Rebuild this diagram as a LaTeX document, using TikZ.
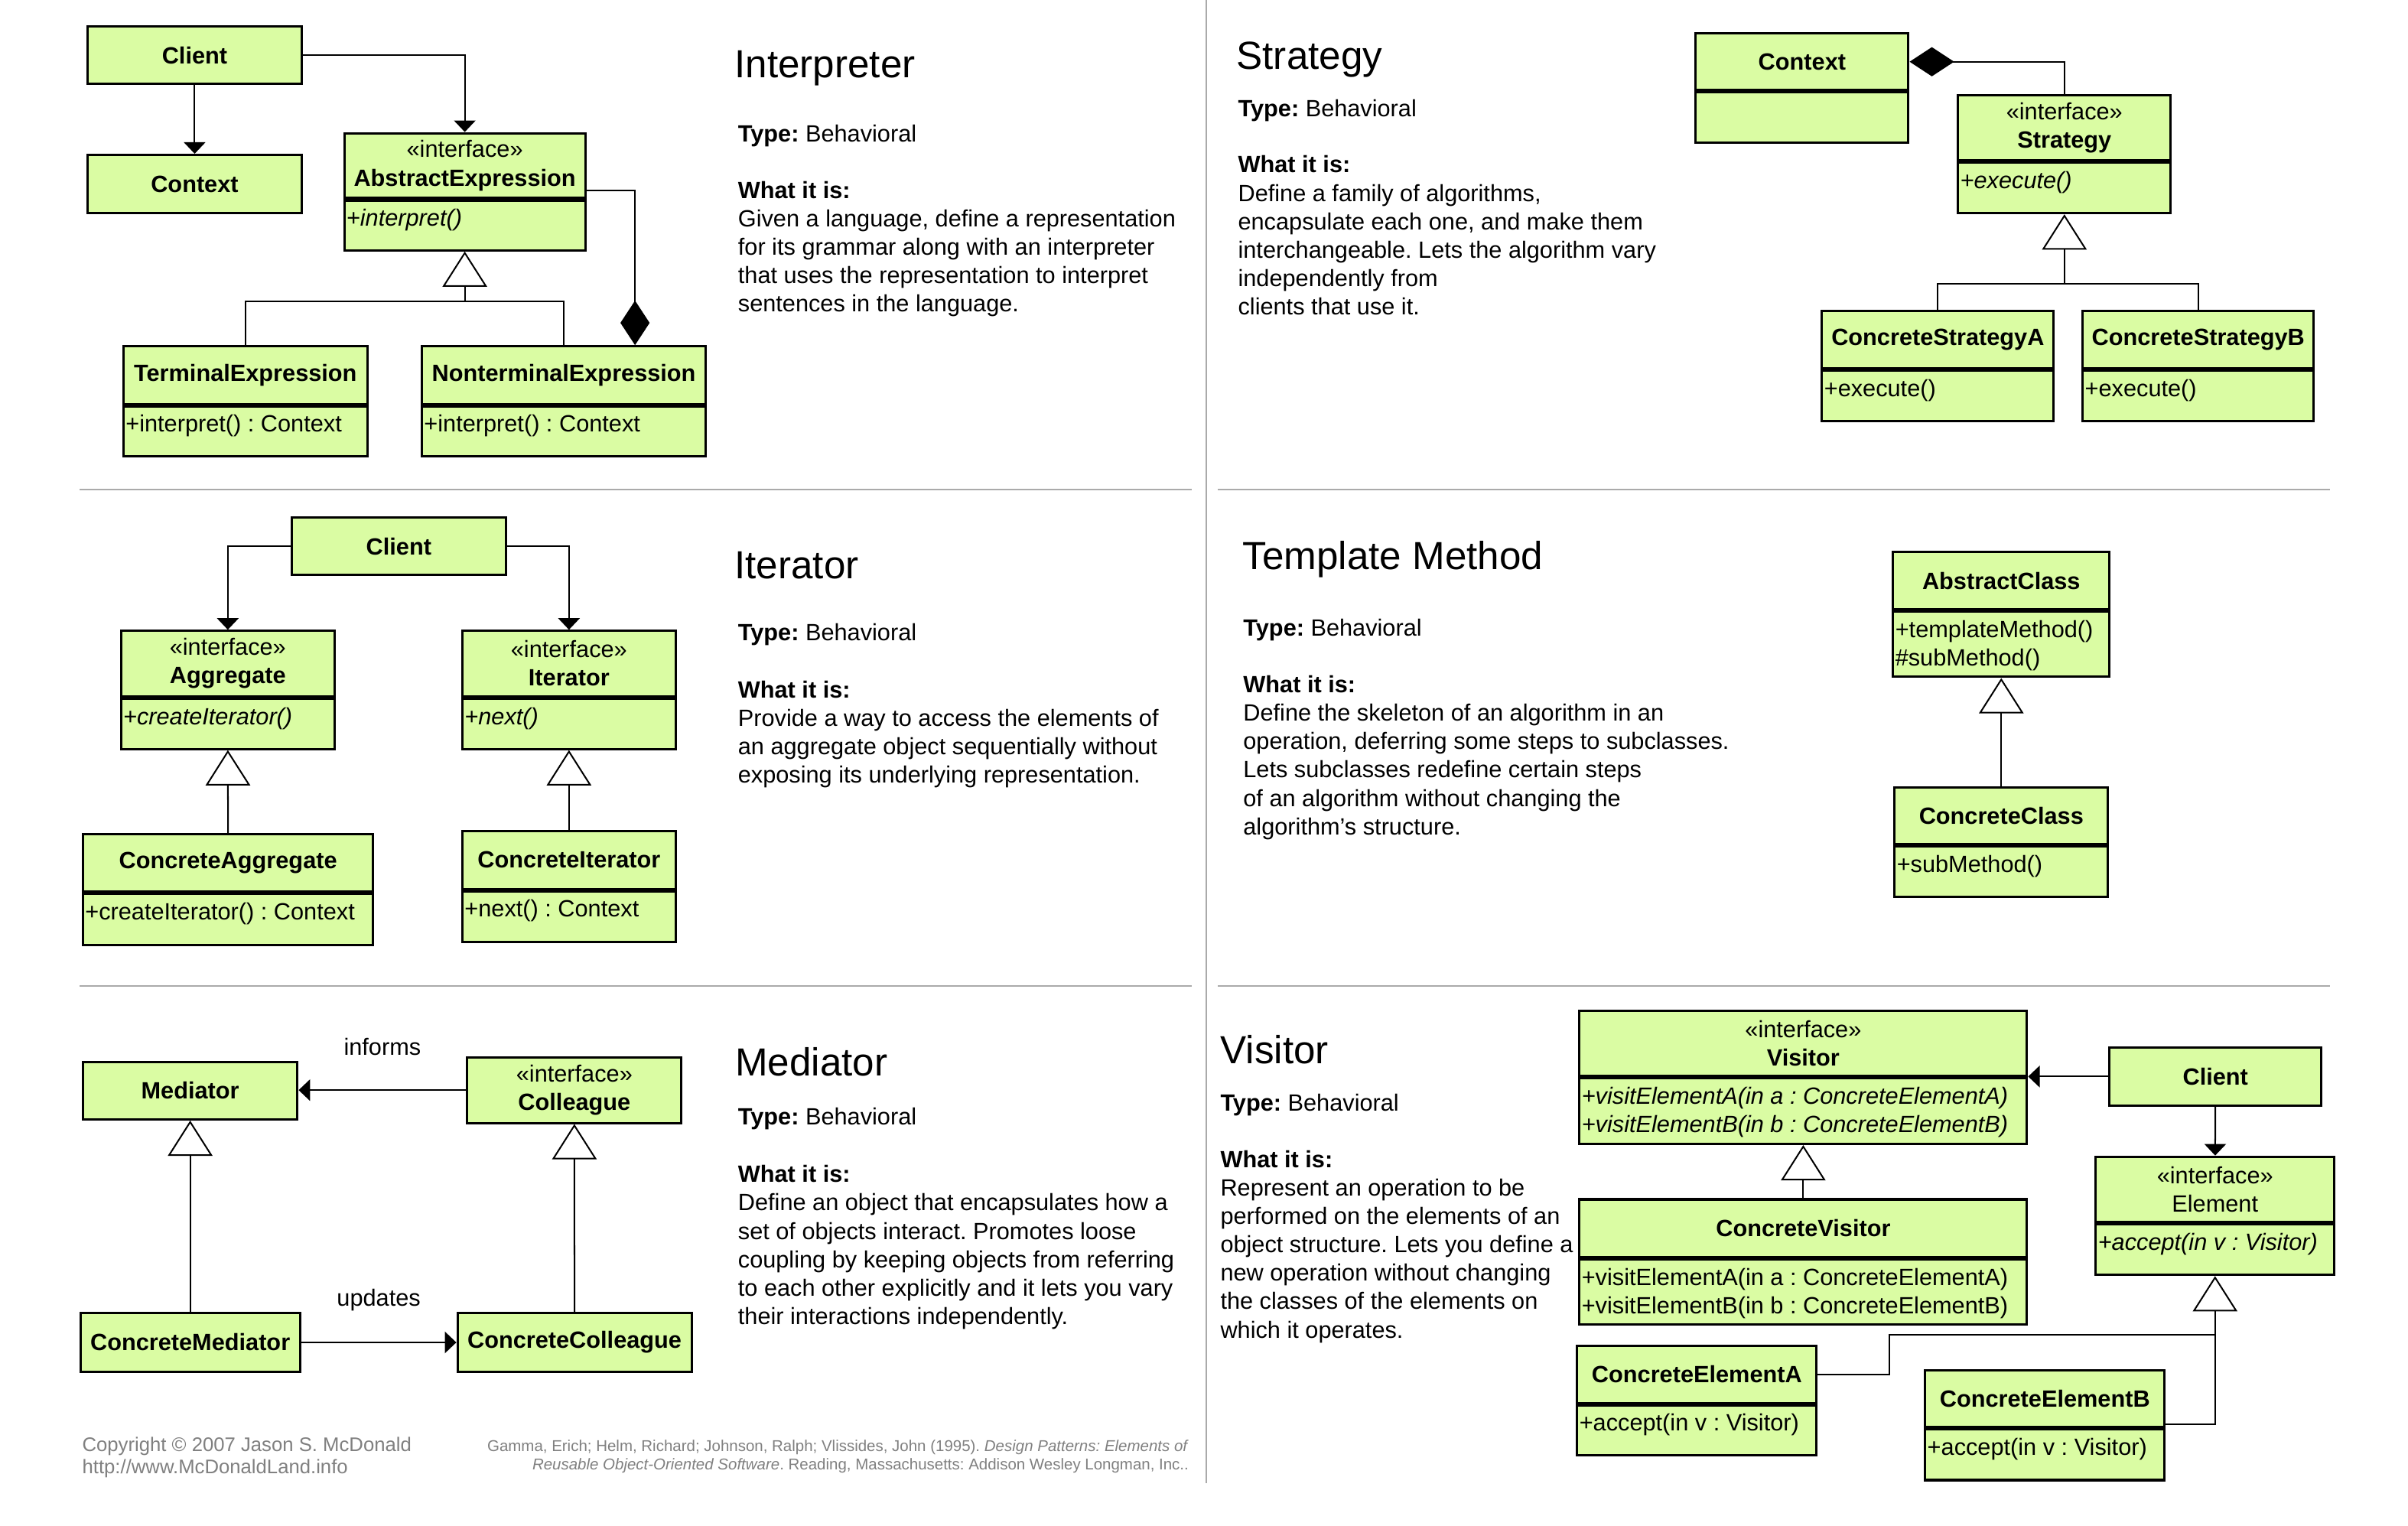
\documentclass[tikz,border=0pt]{standalone}
\usepackage{fontspec}
\setmainfont{Liberation Sans}
\usetikzlibrary{arrows.meta}
\frenchspacing
\definecolor{umlgreen}{RGB}{218,252,163}
\definecolor{rulegray}{RGB}{170,170,170}
\definecolor{footgray}{RGB}{128,128,128}
\newcommand{\umlfont}{\fontsize{15.3}{18.5}\selectfont}
\newcommand{\titlefont}{\fontsize{25.5}{30}\selectfont}
\newcommand{\footfont}{\fontsize{12.8}{14.8}\selectfont}
\newcommand{\citefont}{\fontsize{10.2}{12}\selectfont}

\begin{document}
\begin{tikzpicture}[x=1pt,y=-1pt,
    head/.style={draw,fill=umlgreen,line width=1.5pt,inner sep=0pt,align=center,font=\umlfont},
    body/.style={draw,fill=umlgreen,line width=1.5pt,inner sep=0pt,anchor=north},
    ops/.style={anchor=north west,inner sep=0pt,align=left,font=\umlfont},
    link/.style={line width=1pt},
    assoc/.style={line width=1pt,-{Triangle[width=14pt,length=7.5pt]}},
    gen/.style={line width=1pt,-{Triangle[width=29pt,length=23pt,fill=white]}},
    comp/.style={line width=1pt,-{Diamond[width=19pt,length=29pt]}},
    ptitle/.style={anchor=base west,inner sep=0pt,font=\titlefont},
    kind/.style={anchor=base west,inner sep=0pt,font=\umlfont},
    desc/.style={anchor=north west,inner sep=0pt,align=left,font=\umlfont},
    lbl/.style={inner sep=0pt,font=\umlfont},
    rule/.style={rulegray,line width=1.3pt}]
            \useasboundingbox (0,0) rectangle (1568,993.2);
            \fill[white] (0,0) rectangle (1568,993.2);

            \draw[rule] (785.5,0) -- (785.5,966);
            \draw[rule] (52,318.8) -- (776,318.8);
            \draw[rule] (793,318.8) -- (1517,318.8);
            \draw[rule] (52,642) -- (776,642);
            \draw[rule] (793,642) -- (1517,642);

            \node[head,minimum width=139pt,minimum height=37.5pt] (ic) at (126.75,36) {\textbf{Client}};
            \node[head,minimum width=139pt,minimum height=38pt] (ictx) at (126.75,119.85) {\textbf{Context}};
            \node[head,minimum width=157pt,minimum height=42.3pt] (iae) at (302.65,107.85) {«interface»\\\textbf{AbstractExpression}};
            \node[body,minimum width=157pt,minimum height=32.5pt] (iae-b) at (iae.south) {};
            \node[ops] (iae-o) at ([xshift=2pt,yshift=-4.5pt]iae-b.north west) {\strut\textit{+interpret()}};
            \node[head,minimum width=158.8pt,minimum height=37.5pt] (ite) at (159.8,244.25) {\textbf{TerminalExpression}};
            \node[body,minimum width=158.8pt,minimum height=32.4pt] (ite-b) at (ite.south) {};
            \node[ops] (ite-o) at ([xshift=2pt,yshift=-4.5pt]ite-b.north west) {\strut+interpret() : Context};
            \node[head,minimum width=184.9pt,minimum height=37.5pt] (inte) at (367.15,244.25) {\textbf{NonterminalExpression}};
            \node[body,minimum width=184.9pt,minimum height=32.4pt] (inte-b) at (inte.south) {};
            \node[ops] (inte-o) at ([xshift=2pt,yshift=-4.5pt]inte-b.north west) {\strut+interpret() : Context};
            \coordinate (ie-j) at (iae-b.south |- 0,196);
            \draw[assoc] (ic) -- (ictx);
            \draw[assoc] (ic.east) -| (iae);
            \draw[gen] (ie-j) -- (iae-b);
            \draw[link] (ite) |- (ie-j) -| (inte);
            \draw[comp] (iae.east |- 0,124) -| (inte.north -| 413.5,0);
            \node[ptitle] (i-title) at (478.2,50.8) {Interpreter};
            \node[kind] (i-type) at (480.4,92.2) {\textbf{Type:} Behavioral};
            \node[desc] (i-desc) at (480.4,116.05) {\strut\textbf{What it is:}\\Given a language, define a representation\\for its grammar along with an interpreter\\that uses the representation to interpret\\sentences in the language.};

            \node[head,minimum width=139.4pt,minimum height=37.6pt] (itc) at (259.7,355.7) {\textbf{Client}};
            \node[head,minimum width=139.1pt,minimum height=42.5pt] (iag) at (148.35,432.05) {«interface»\\\textbf{Aggregate}};
            \node[body,minimum width=139.1pt,minimum height=32.9pt] (iag-b) at (iag.south) {};
            \node[ops] (iag-o) at ([xshift=2pt,yshift=-4.5pt]iag-b.north west) {\strut\textit{+createIterator()}};
            \node[head,minimum width=138.8pt,minimum height=42.5pt] (iit) at (370.5,432.05) {«interface»\\\textbf{Iterator}};
            \node[body,minimum width=138.8pt,minimum height=32.9pt] (iit-b) at (iit.south) {};
            \node[ops] (iit-o) at ([xshift=2pt,yshift=-4.5pt]iit-b.north west) {\strut\textit{+next()}};
            \node[head,minimum width=189pt,minimum height=37.4pt] (icag) at (148.5,562) {\textbf{ConcreteAggregate}};
            \node[body,minimum width=189pt,minimum height=33.1pt] (icag-b) at (icag.south) {};
            \node[ops] (icag-o) at ([xshift=2pt,yshift=-4.5pt]icag-b.north west) {\strut+createIterator() : Context};
            \node[head,minimum width=138.8pt,minimum height=37.8pt] (icit) at (370.5,559.9) {\textbf{ConcreteIterator}};
            \node[body,minimum width=138.8pt,minimum height=32.9pt] (icit-b) at (icit.south) {};
            \node[ops] (icit-o) at ([xshift=2pt,yshift=-4.5pt]icit-b.north west) {\strut+next() : Context};
            \draw[assoc] (itc.west) -| (iag);
            \draw[assoc] (itc.east) -| (iit);
            \draw[gen] (icag) -- (iag-b);
            \draw[gen] (icit) -- (iit-b);
            \node[ptitle] (it-title) at (478.2,377) {Iterator};
            \node[kind] (it-type) at (480.4,417.2) {\textbf{Type:} Behavioral};
            \node[desc] (it-desc) at (480.4,441.25) {\strut\textbf{What it is:}\\Provide a way to access the elements of\\an aggregate object sequentially without\\exposing its underlying representation.};

            \node[head,minimum width=139.7pt,minimum height=37.4pt] (mmed) at (123.85,710.2) {\textbf{Mediator}};
            \node[head,minimum width=139.4pt,minimum height=42.7pt] (mcol) at (374,709.85) {«interface»\\\textbf{Colleague}};
            \node[head,minimum width=142.9pt,minimum height=37.9pt] (mcm) at (123.85,874.15) {\textbf{ConcreteMediator}};
            \node[head,minimum width=152.4pt,minimum height=37.9pt] (mcc) at (374.1,874.15) {\textbf{ConcreteColleague}};
            \draw[assoc] (mcol.west) -- (mcol.west -| mmed.east) node[lbl,midway,yshift=28.4pt] (m-inf) {informs};
            \draw[assoc] (mcm) -- (mcc) node[lbl,midway,yshift=27.8pt] (m-upd) {updates};
            \draw[gen] (mcm) -- (mmed);
            \draw[gen] (mcc) -- (mcol);
            \node[ptitle] (m-title) at (478.5,700.5) {Mediator};
            \node[kind] (m-type) at (480.4,732.3) {\textbf{Type:} Behavioral};
            \node[desc] (m-desc) at (480.4,756.75) {\strut\textbf{What it is:}\\Define an object that encapsulates how a\\set of objects interact. Promotes loose\\coupling by keeping objects from referring\\to each other explicitly and it lets you vary\\their interactions independently.};

            \node[head,minimum width=138.5pt,minimum height=37pt] (sctx) at (1173.45,40.2) {\textbf{Context}};
            \node[body,minimum width=138.5pt,minimum height=32.9pt] (sctx-b) at (sctx.south) {};
            \node[head,minimum width=138.5pt,minimum height=42.4pt] (sst) at (1344.25,83.2) {«interface»\\\textbf{Strategy}};
            \node[body,minimum width=138.5pt,minimum height=32.9pt] (sst-b) at (sst.south) {};
            \node[ops] (sst-o) at ([xshift=2pt,yshift=-4.5pt]sst-b.north west) {\strut\textit{+execute()}};
            \node[head,minimum width=150.9pt,minimum height=37.4pt] (sca) at (1261.85,221.2) {\textbf{ConcreteStrategyA}};
            \node[body,minimum width=150.9pt,minimum height=32.9pt] (sca-b) at (sca.south) {};
            \node[ops] (sca-o) at ([xshift=2pt,yshift=-4.5pt]sca-b.north west) {\strut+execute()};
            \node[head,minimum width=150.4pt,minimum height=37.4pt] (scb) at (1431.4,221.2) {\textbf{ConcreteStrategyB}};
            \node[body,minimum width=150.4pt,minimum height=32.9pt] (scb-b) at (scb.south) {};
            \node[ops] (scb-o) at ([xshift=2pt,yshift=-4.5pt]scb-b.north west) {\strut+execute()};
            \coordinate (s-j) at (sst-b.south |- 0,185);
            \draw[comp] (sst) |- (sctx.east);
            \draw[gen] (s-j) -- (sst-b);
            \draw[link] (sca) |- (s-j) -| (scb);
            \node[ptitle] (s-title) at (805,45.3) {Strategy};
            \node[kind] (s-type) at (806,75.8) {\textbf{Type:} Behavioral};
            \node[desc] (s-desc) at (806,99.35) {\strut\textbf{What it is:}\\Define a family of algorithms,\\encapsulate each one, and make them\\interchangeable. Lets the algorithm vary\\independently from\\clients that use it.};

            \node[head,minimum width=140.9pt,minimum height=37pt] (tac) at (1303.15,378.1) {\textbf{AbstractClass}};
            \node[body,minimum width=140.9pt,minimum height=42.7pt] (tac-b) at (tac.south) {};
            \node[ops] (tac-o) at ([xshift=2pt,yshift=-4.5pt]tac-b.north west) {\strut+templateMethod()\\\#subMethod()};
            \node[head,minimum width=138.9pt,minimum height=37pt] (tcc) at (1303.15,531.3) {\textbf{ConcreteClass}};
            \node[body,minimum width=138.9pt,minimum height=32.9pt] (tcc-b) at (tcc.south) {};
            \node[ops] (tcc-o) at ([xshift=2pt,yshift=-4.5pt]tcc-b.north west) {\strut+subMethod()};
            \draw[gen] (tcc) -- (tac-b);
            \node[ptitle] (t-title) at (809,371) {Template Method};
            \node[kind] (t-type) at (809.4,414.3) {\textbf{Type:} Behavioral};
            \node[desc] (t-desc) at (809.4,437.85) {\strut\textbf{What it is:}\\Define the skeleton of an algorithm in an\\operation, deferring some steps to subclasses.\\Lets subclasses redefine certain steps\\of an algorithm without changing the\\algorithm's structure.};

            \node[head,minimum width=291.4pt,minimum height=42.1pt] (vv) at (1174.2,679.45) {«interface»\\\textbf{Visitor}};
            \node[body,minimum width=291.4pt,minimum height=42.9pt] (vv-b) at (vv.south) {};
            \node[ops] (vv-o) at ([xshift=2pt,yshift=-4.5pt]vv-b.north west) {\strut\textit{+visitElementA(in a : ConcreteElementA)}\\\textit{+visitElementB(in b : ConcreteElementB)}};
            \node[head,minimum width=138pt,minimum height=37.6pt] (vcl) at (1442.6,701) {\textbf{Client}};
            \node[head,minimum width=155.3pt,minimum height=42.6pt] (vel) at (1442.35,774.5) {«interface»\\Element};
            \node[body,minimum width=155.3pt,minimum height=32.9pt] (vel-b) at (vel.south) {};
            \node[ops] (vel-o) at ([xshift=2pt,yshift=-4.5pt]vel-b.north west) {\strut\textit{+accept(in v : Visitor)}};
            \node[head,minimum width=291.4pt,minimum height=37.5pt] (vcv) at (1174.2,799.75) {\textbf{ConcreteVisitor}};
            \node[body,minimum width=291.4pt,minimum height=42.4pt] (vcv-b) at (vcv.south) {};
            \node[ops] (vcv-o) at ([xshift=2pt,yshift=-4.5pt]vcv-b.north west) {\strut+visitElementA(in a : ConcreteElementA)\\+visitElementB(in b : ConcreteElementB)};
            \node[head,minimum width=155.9pt,minimum height=37.2pt] (vea) at (1104.95,894.9) {\textbf{ConcreteElementA}};
            \node[body,minimum width=155.9pt,minimum height=32.5pt] (vea-b) at (vea.south) {};
            \node[ops] (vea-o) at ([xshift=2pt,yshift=-4.5pt]vea-b.north west) {\strut+accept(in v : Visitor)};
            \node[head,minimum width=155.9pt,minimum height=37.2pt] (veb) at (1331.55,910.8) {\textbf{ConcreteElementB}};
            \node[body,minimum width=155.9pt,minimum height=32.9pt] (veb-b) at (veb.south) {};
            \node[ops] (veb-o) at ([xshift=2pt,yshift=-4.5pt]veb-b.north west) {\strut+accept(in v : Visitor)};
            \coordinate (v-j) at (vel-b.south |- 0,869.3);
            \coordinate (v-k) at (1230.2,869.3);
            \draw[assoc] (vcl) -- (vcl -| vv.east);
            \draw[assoc] (vcl) -- (vel);
            \draw[gen] (vcv) -- (vv-b);
            \draw[gen] (veb.east |- 0,927.3) -| (vel-b);
            \draw[link] (vea) -| (v-k) -- (v-j);
            \node[ptitle] (v-title) at (794.5,692.4) {Visitor};
            \node[kind] (v-type) at (794.5,723.7) {\textbf{Type:} Behavioral};
            \node[desc] (v-desc) at (794.5,747.05) {\strut\textbf{What it is:}\\Represent an operation to be\\performed on the elements of an\\object structure. Lets you define a\\new operation without changing\\the classes of the elements on\\which it operates.};

            \node[anchor=north west,inner sep=0pt,align=left,font=\footfont,text=footgray] (f-copy) at (53.4,934.44) {\strut Copyright © 2007 Jason S. McDonald\\http://www.McDonaldLand.info};
            \node[anchor=north east,inner sep=0pt,align=right,font=\citefont,text=footgray] (f-cite) at (774.2,936.4) {\strut Gamma, Erich; Helm, Richard; Johnson, Ralph; Vlissides, John (1995). \textit{Design Patterns: Elements of}\\\textit{Reusable Object-Oriented Software}. Reading, Massachusetts: Addison Wesley Longman, Inc..};
        \end{tikzpicture}
\end{document}
